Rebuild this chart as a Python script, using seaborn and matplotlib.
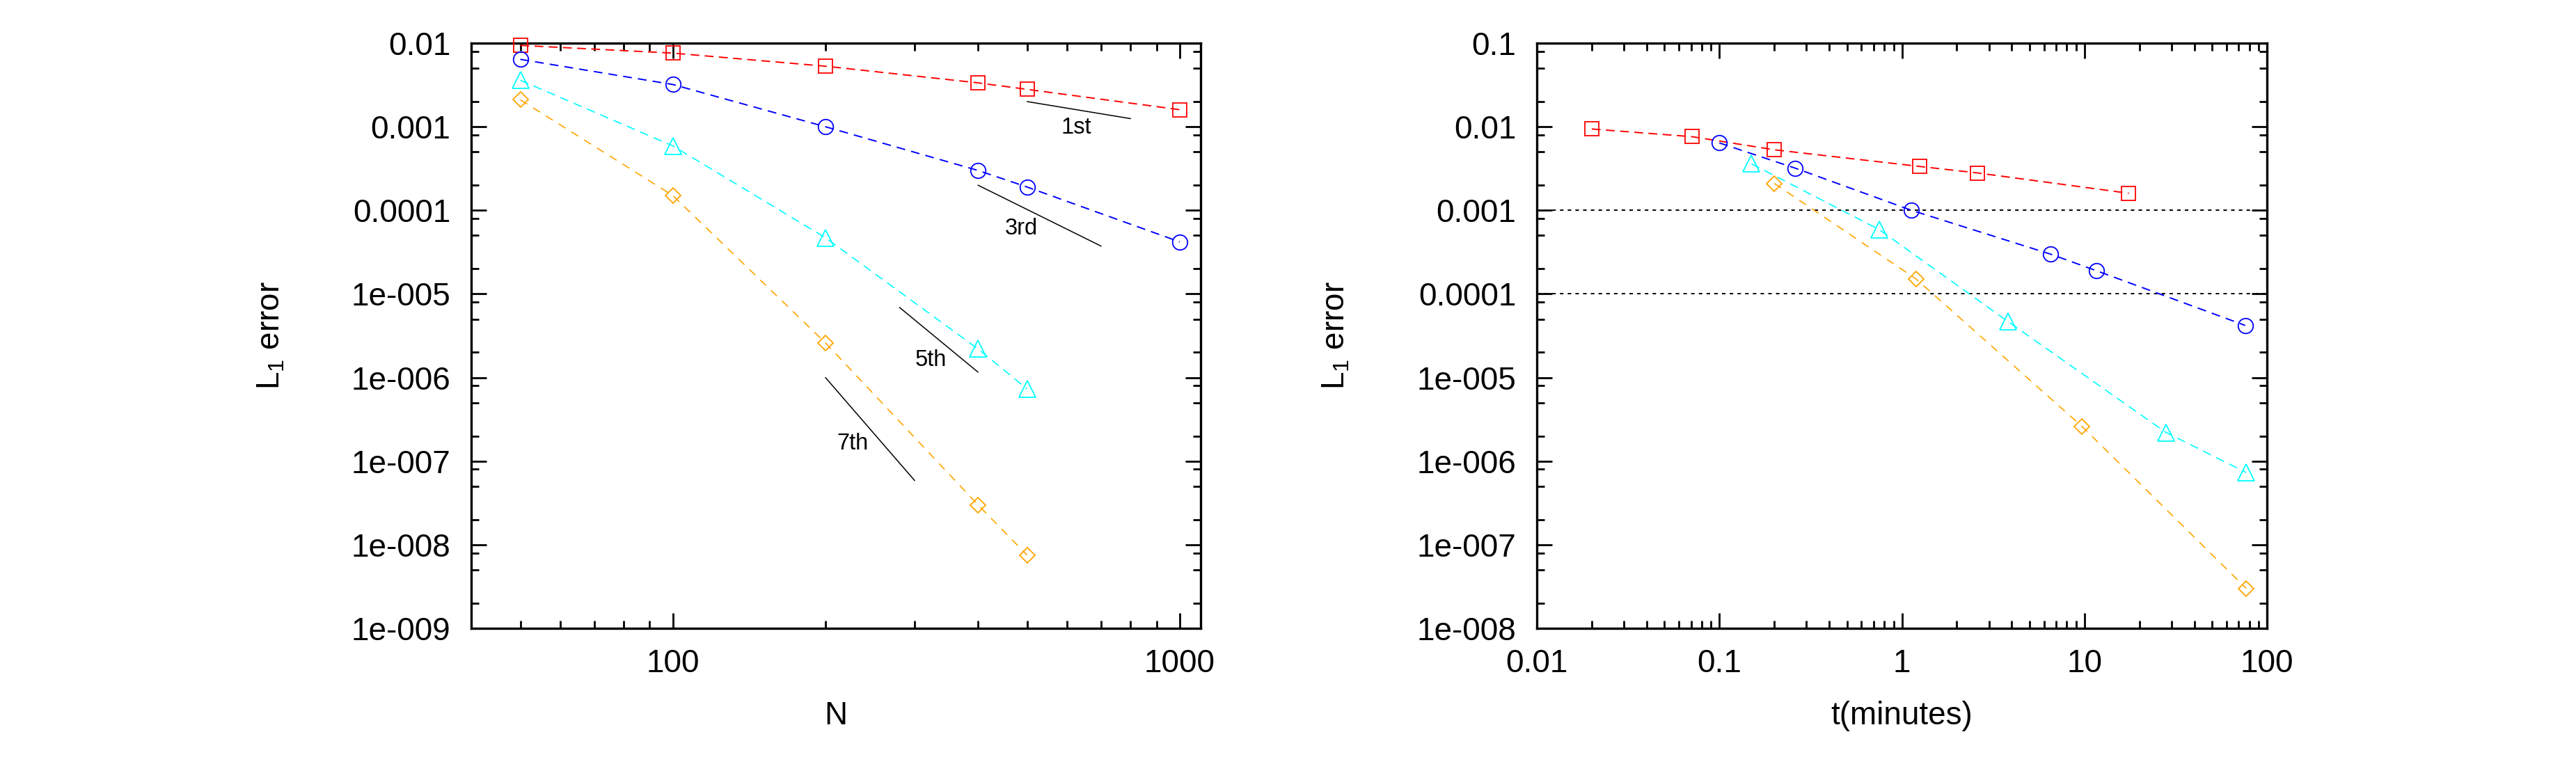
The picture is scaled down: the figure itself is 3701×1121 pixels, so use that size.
import numpy as np
import matplotlib
matplotlib.use('Agg')
import matplotlib.pyplot as plt
import seaborn as sns
from matplotlib.ticker import FixedLocator, FixedFormatter, LogLocator, NullFormatter

# Data
N_long = [50, 100, 200, 400, 500, 1000]
N_short = [50, 100, 200, 400, 500]

err_red = [9.4e-3, 7.6e-3, 5.3e-3, 3.35e-3, 2.8e-3, 1.6e-3]
err_blue = [6.4e-3, 3.2e-3, 1.0e-3, 3.0e-4, 1.9e-4, 4.2e-5]
err_cyan = [3.6e-3, 5.9e-4, 4.7e-5, 2.2e-6, 7.3e-7]
err_orange = [2.1e-3, 1.5e-4, 2.6e-6, 3.0e-8, 7.5e-9]

t_red = [0.020, 0.071, 0.20, 1.25, 2.6, 17.5]
t_blue = [0.10, 0.26, 1.13, 6.5, 11.6, 76.0]
t_cyan = [0.15, 0.75, 3.8, 28.0, 77.0]
t_orange = [0.20, 1.2, 9.7, 77.0]

# reference slopes on the left panel
slope_names = ['1st', '3rd', '5th', '7th']
slope_x = [[500, 800], [400, 700], [280, 400], [200, 300]]
slope_y = [[2.0e-3, 1.25e-3], [2.0e-4, 3.73e-5], [6.9e-6, 1.16e-6], [1.0e-6, 5.85e-8]]
slope_label_x = [625, 487, 323, 226]
slope_label_y = [9.8e-4, 6.0e-5, 1.62e-6, 1.62e-7]

# horizontal guide lines on the right panel
guide_levels = [1e-3, 1e-4]

left_xticks = [100, 1000]
left_xlabels = ['100', '1000']
left_yticks = [1e-9, 1e-8, 1e-7, 1e-6, 1e-5, 1e-4, 1e-3, 1e-2]
left_ylabels = ['1e-009', '1e-008', '1e-007', '1e-006', '1e-005', '0.0001', '0.001', '0.01']
right_xticks = [0.01, 0.1, 1, 10, 100]
right_xlabels = ['0.01', '0.1', '1', '10', '100']
right_yticks = [1e-8, 1e-7, 1e-6, 1e-5, 1e-4, 1e-3, 1e-2, 1e-1]
right_ylabels = ['1e-008', '1e-007', '1e-006', '1e-005', '0.0001', '0.001', '0.01', '0.1']

styles = {
    'red': dict(color='#ff0000', marker='s', markersize=15, lw=1.4, dash=(6.5, 4)),
    'blue': dict(color='#0000ff', marker='o', markersize=15.5, lw=1.4, dash=(6.5, 4.5)),
    'cyan': dict(color='#00ffff', marker='^', markersize=17, lw=1.2, dash=(7.5, 5)),
    'orange': dict(color='#ffa500', marker='D', markersize=11.5, lw=1.2, dash=(7, 6)),
}

sns.set_style('ticks')
plt.rcParams['font.family'] = ['Liberation Sans', 'DejaVu Sans']
plt.rcParams['mathtext.default'] = 'regular'

fig = plt.figure(figsize=(37.01, 11.21), dpi=100)
W, H = 3701, 1121
ax1 = fig.add_axes([677 / W, 1 - 903 / H, 1048 / W, 841 / H])
ax2 = fig.add_axes([2208 / W, 1 - 903 / H, 1049 / W, 841 / H])


def draw_series(ax, xs, ys, key):
    st = styles[key]
    sns.lineplot(x=xs, y=ys, ax=ax, errorbar=None, color=st['color'],
                 marker=st['marker'], markersize=st['markersize'],
                 markerfacecolor='none', markeredgecolor=st['color'],
                 markeredgewidth=1.3, linewidth=st['lw'],
                 linestyle=(0, st['dash']), clip_on=False, zorder=3)


def style_axes(ax, xticks, xlabels, yticks, ylabels, xlim, ylim, xlabel):
    ax.set_xscale('log')
    ax.set_yscale('log')
    ax.set_xlim(*xlim)
    ax.set_ylim(*ylim)
    ax.xaxis.set_major_locator(FixedLocator(xticks))
    ax.xaxis.set_major_formatter(FixedFormatter(xlabels))
    ax.xaxis.set_minor_locator(LogLocator(base=10, subs=np.arange(2, 10), numticks=100))
    ax.xaxis.set_minor_formatter(NullFormatter())
    ax.yaxis.set_major_locator(FixedLocator(yticks))
    ax.yaxis.set_major_formatter(FixedFormatter(ylabels))
    ax.yaxis.set_minor_locator(LogLocator(base=10, subs=(2, 5, 8), numticks=100))
    ax.yaxis.set_minor_formatter(NullFormatter())
    ax.tick_params(which='both', direction='in', top=True, right=True,
                   width=2.0, color='black', labelcolor='black', labelsize=33)
    ax.tick_params(which='major', length=15.8)
    ax.tick_params(which='minor', length=7.9)
    ax.tick_params(axis='x', which='major', pad=21)
    ax.tick_params(axis='y', which='major', pad=21.5)
    for sp in ax.spines.values():
        sp.set_linewidth(2.4)
        sp.set_color('black')
        sp.set_visible(True)
    ax.set_xlabel(xlabel, fontsize=33, color='black')
    ax.xaxis.set_label_coords(0.5, (903 - 1041) / 841)
    ax.xaxis.label.set_verticalalignment('baseline')
    ax.set_ylabel(r'L$_1$ error', fontsize=33, color='black')
    ax.yaxis.set_label_coords((389 - 677) / 1048, 0.5)
    ax.yaxis.label.set_verticalalignment('center')


# left panel: error vs N
draw_series(ax1, N_long, err_red, 'red')
draw_series(ax1, N_long, err_blue, 'blue')
draw_series(ax1, N_short, err_cyan, 'cyan')
draw_series(ax1, N_short, err_orange, 'orange')
for name, xs, ys, lx, ly in zip(slope_names, slope_x, slope_y, slope_label_x, slope_label_y):
    sns.lineplot(x=xs, y=ys, ax=ax1, errorbar=None, color='black', linewidth=1.1)
    ax1.text(lx, ly, name, fontsize=23.5, ha='center', va='center', color='black')
style_axes(ax1, left_xticks, left_xlabels, left_yticks, left_ylabels,
           (40, 1100), (1e-9, 1e-2), 'N')

# right panel: error vs run time
for lev in guide_levels:
    ax2.axhline(lev, color='black', linewidth=1.4, linestyle=(0, (2.6, 3.1)), zorder=1)
draw_series(ax2, t_red, err_red, 'red')
draw_series(ax2, t_blue, err_blue, 'blue')
draw_series(ax2, t_cyan, err_cyan, 'cyan')
draw_series(ax2, t_orange, err_orange[:len(t_orange)], 'orange')
style_axes(ax2, right_xticks, right_xlabels, right_yticks, right_ylabels,
           (0.01, 100), (1e-8, 1e-1), 't(minutes)')

fig.savefig('out.png', dpi=100)
plt.close(fig)
